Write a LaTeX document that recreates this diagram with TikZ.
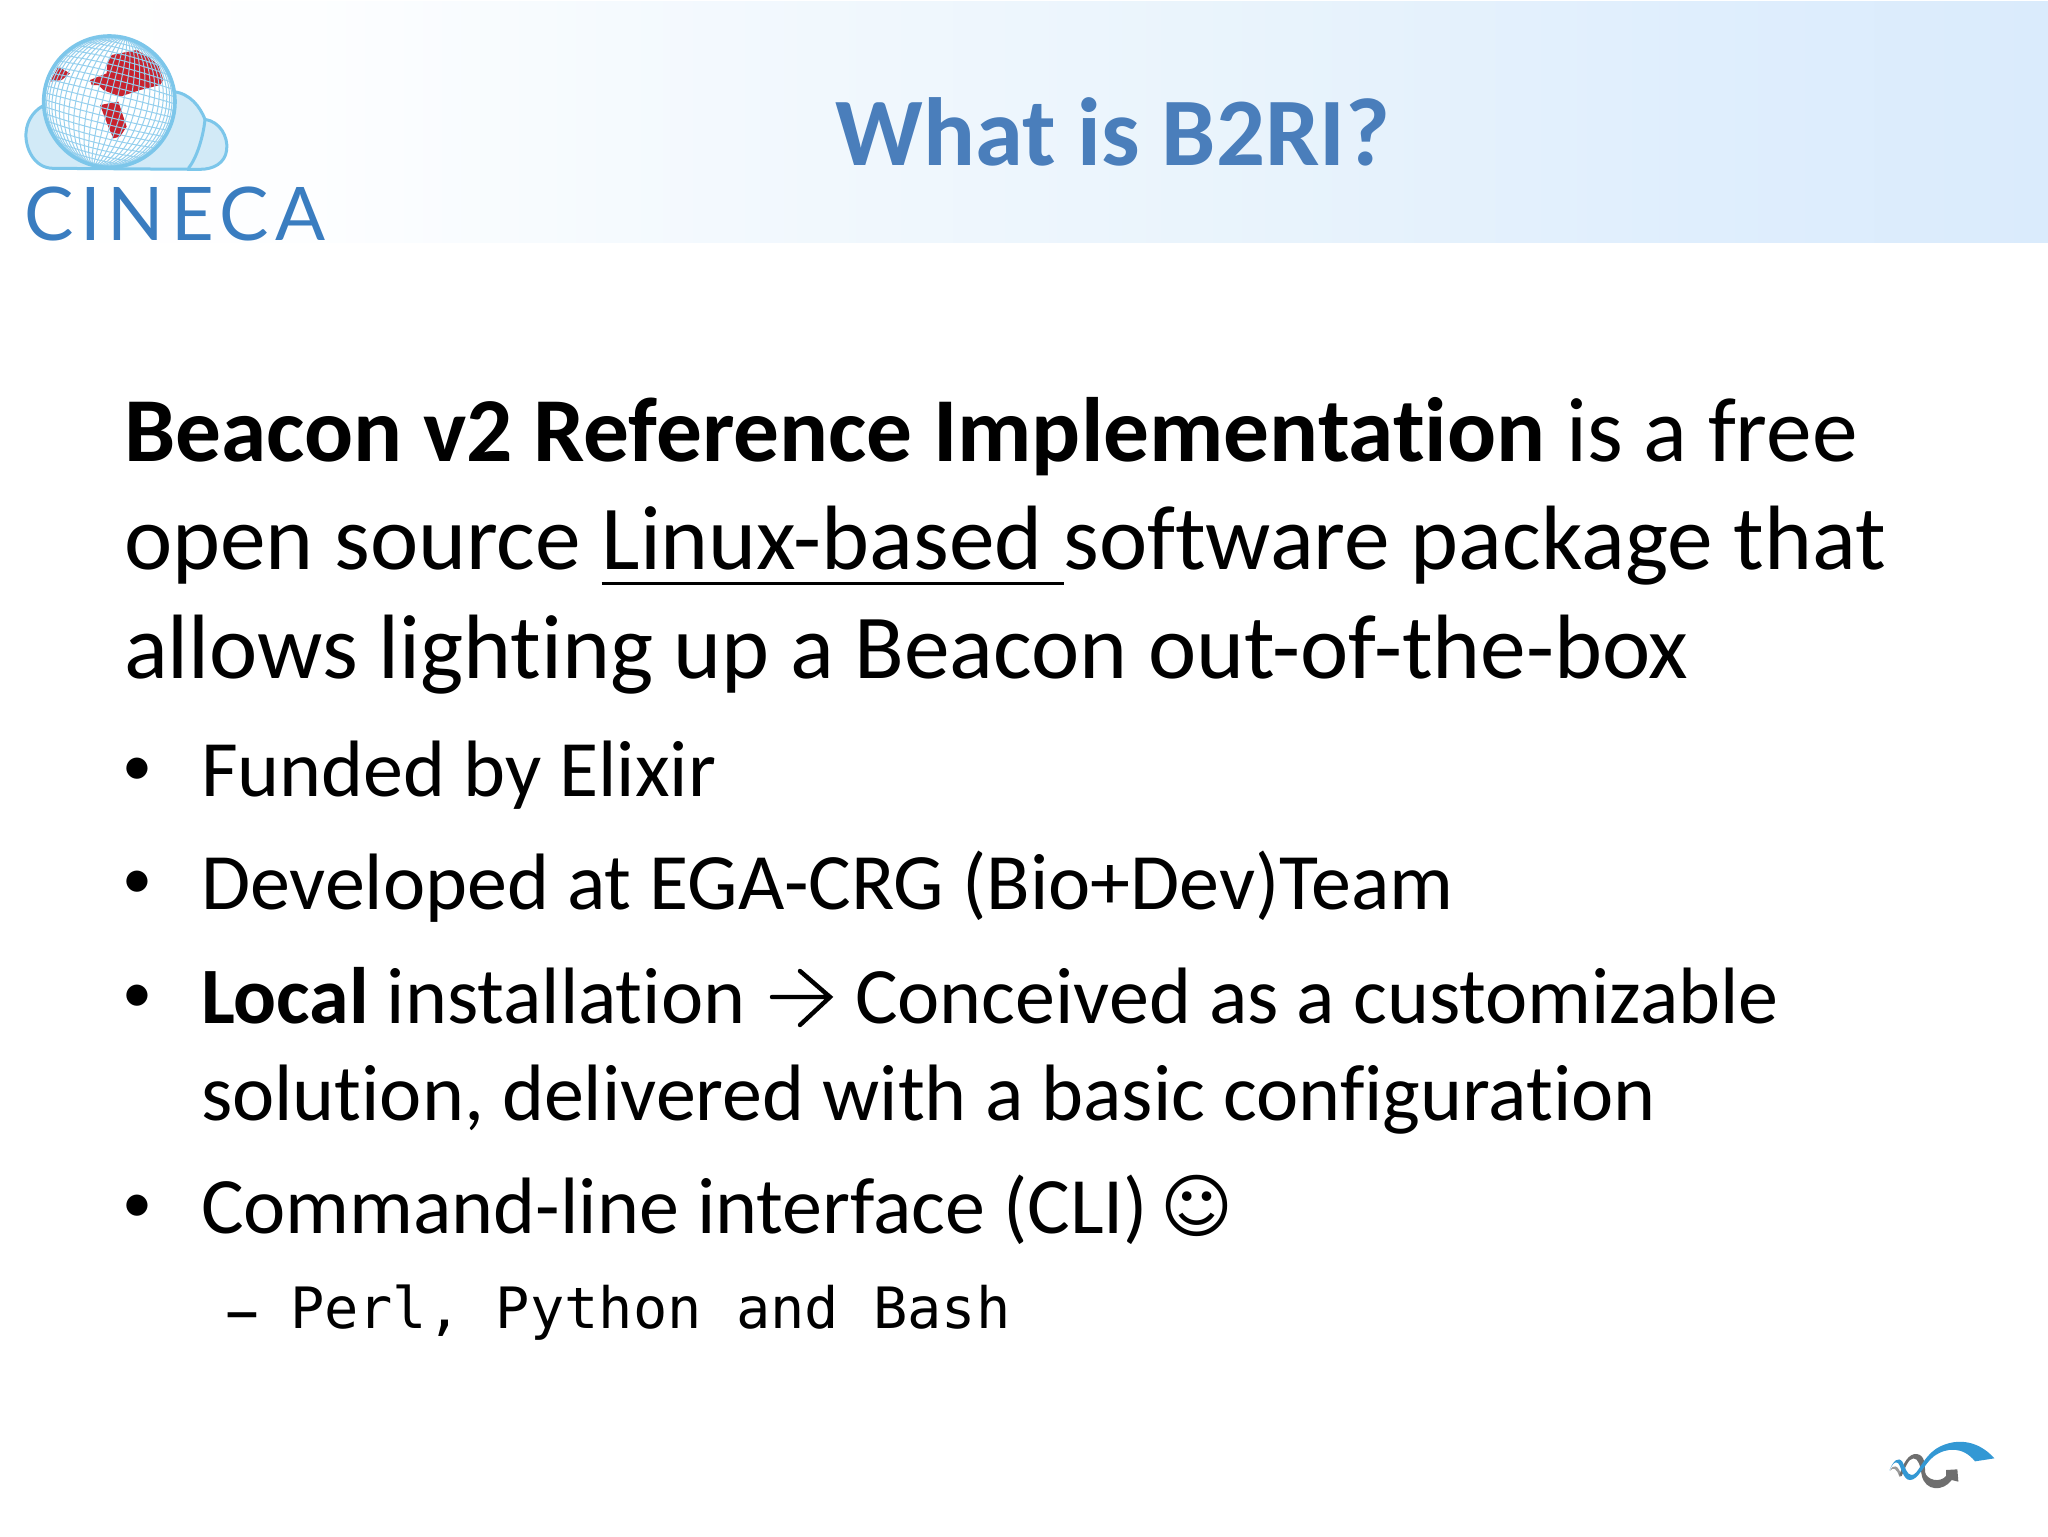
\documentclass[tikz,border=0pt]{standalone}
\usepackage{fontspec}
\setmainfont[Ligatures={NoCommon,TeX}]{Carlito}
\newfontfamily\symfont{DejaVu Sans}
\newfontfamily\codefont{DejaVu Sans Mono}
\newfontfamily\logofont[LetterSpace=9]{Lato}
\usetikzlibrary{calc}
\definecolor{titleblue}{HTML}{4A7EBB}
\definecolor{cinecablue}{HTML}{3A7DC0}
\definecolor{cloudfill}{HTML}{D2EAF7}
\definecolor{cloudline}{HTML}{7CC6EA}
\definecolor{gridblue}{HTML}{96D0EE}
\definecolor{mapred}{HTML}{C8232E}
\definecolor{swoosh}{HTML}{3398D4}
\definecolor{swooshgrey}{HTML}{6E6E6E}
\definecolor{bandA}{HTML}{FDFEFF}
\definecolor{bandB}{HTML}{F5FAFE}
\definecolor{bandC}{HTML}{E8F3FC}
\definecolor{bandD}{HTML}{DFEEFD}
\definecolor{bandE}{HTML}{DAEBFC}
\pgfdeclarehorizontalshading{headband}{100bp}{
  color(0bp)=(white); color(25bp)=(white); color(32.5bp)=(bandA); color(40bp)=(bandB);
  color(56.5bp)=(bandC); color(66.5bp)=(bandD); color(75bp)=(bandE); color(100bp)=(bandE)}
\newcommand{\underlined}[1]{\setbox0=\hbox{#1}\rlap{\rule[-8pt]{\wd0}{1.7pt}}\box0}
\tikzset{
  bodytext/.style={anchor=base west,inner sep=0pt,outer sep=0pt,font=\fontsize{45.7}{54}\selectfont,text=black},
  bullettext/.style={anchor=base west,inner sep=0pt,outer sep=0pt,font=\fontsize{40}{48}\selectfont,text=black},
  bulletmark/.style={anchor=base west,inner sep=0pt,outer sep=0pt,font=\fontsize{30}{34}\selectfont,text=black},
  codetext/.style={anchor=base west,inner sep=0pt,outer sep=0pt,font=\fontsize{28.5}{34}\codefont,text=black},
  gridline/.style={gridblue,line width=0.5pt},
}
\begin{document}
\begin{tikzpicture}[x=0.5pt,y=-0.5pt]
\useasboundingbox (0,0) rectangle (2048,1536);
\fill[white] (0,0) rectangle (2048,1536);
% header band
\shade[shading=headband] (0,2) rectangle (2048,242);
% CINECA logo (cloud and globe)
\begin{scope}[shift={(20,30)},x=0.16667pt,y=-0.16667pt]
  \fill[cloudfill,draw=cloudline,line width=1.5pt]
    (100,415) .. controls (40,415) and (15,350) .. (18,310)
    .. controls (20,265) and (50,235) .. (75,225)
    -- (460,185) .. controls (510,190) and (540,230) .. (555,268)
    .. controls (600,275) and (625,320) .. (620,360)
    .. controls (615,400) and (580,418) .. (540,418) -- cycle;
  \draw[cloudline,line width=1.5pt] (555,268) .. controls (550,320) and (530,385) .. (505,415);
  \begin{scope}
    \clip (268,215) circle (197);
    \fill[white] (268,215) circle (197);
    \fill[mapred] (210,150) -- (260,130) -- (262,100) -- (275,75) -- (350,60) -- (385,80) -- (415,105) -- (430,150) -- (420,165) -- (360,180) -- (330,190) -- (300,200) -- (275,190) -- (250,180) -- (235,165) -- (215,165) -- cycle;
    \fill[mapred] (240,225) -- (295,215) -- (320,290) -- (300,320) -- (280,325) -- (265,290) -- cycle;
    \fill[mapred] (90,155) -- (115,110) -- (150,130) -- (125,150) -- cycle;
    \begin{scope}[rotate around={-14:(268,215)}]
      \foreach \p in {6,12,...,84} {
        \draw[gridline] (268,215) ellipse [x radius={197*sin(\p)},y radius=197];
      }
      \draw[gridline] (268,18) -- (268,412);
      \foreach \p in {-84,-78,...,84} {
        \draw[gridline] ($(268,215)+(-197,{197*sin(\p)})$) .. controls ($(268,215)+(-70,{197*sin(\p)+30*sin(\p)})$) and ($(268,215)+(70,{197*sin(\p)+30*sin(\p)})$) .. ($(268,215)+(197,{197*sin(\p)})$);
      }
    \end{scope}
  \end{scope}
  \draw[cloudline,line width=1.8pt] (268,215) circle (197);
\end{scope}
\node[anchor=base west,inner sep=0pt,font=\logofont\fontsize{37}{44}\selectfont,text=cinecablue] (cineca) at (24,240) {CINECA};
% title
\node[anchor=base,inner sep=0pt,font=\fontsize{48.4}{56}\bfseries\selectfont,text=titleblue] (title) at (1113,165) {What is B2RI?};
% lead paragraph
\node[bodytext] (leadone) at (124,461) {\textbf{Beacon v2 Reference Implementation} is a free};
\node[bodytext] (leadtwo) at (124,569) {open source \underlined{Linux-based\ }software package that};
\node[bodytext] (leadthree) at (124,678) {allows lighting up a Beacon out-of-the-box};
% bullets
\node[bulletmark] (bone) at (122,785) {•};
\node[bullettext] (tone) at (201,796) {Funded by Elixir};
\node[bulletmark] (btwo) at (122,898) {•};
\node[bullettext] (ttwo) at (201,909) {Developed at EGA-CRG (Bio+Dev)Team};
\node[bulletmark] (bthree) at (122,1012) {•};
\node[bullettext] (tthree) at (201,1023) {\textbf{Local} installation};
\coordinate (arrowtail) at (772,997);
\coordinate (arrowtip) at (830,997);
\draw[black,line width=2.2pt,line cap=round,line join=miter] (arrowtail) -- (arrowtip) (800,971) -- (arrowtip) -- (800,1025);
\node[bullettext] (tthreec) at (855,1023) {Conceived as a customizable};
\node[bullettext] (tthreeb) at (201,1120) {solution, delivered with a basic configuration};
\node[bulletmark] (bfour) at (122,1222) {•};
\node[bullettext] (tfour) at (201,1233) {Command-line interface (CLI)\hspace{6pt}\raisebox{1pt}{\fontsize{35}{40}\symfont☺}};
\node[bullettext] (dash) at (222,1337) {–};
\node[codetext] (tcode) at (290,1328) {Perl, Python and Bash};
% swoosh logo
\begin{scope}[shift={(1840,1400)},x=0.16667pt,y=-0.16667pt]
  \fill[swooshgrey!70!white] (150,212) .. controls (160,190) and (175,195) .. (185,228) -- (178,230) .. controls (170,205) and (160,200) .. (150,212) -- cycle;
  \fill[swooshgrey] (178,225) .. controls (190,190) and (205,160) .. (230,162) .. controls (255,165) and (255,195) .. (255,215) .. controls (258,240) and (300,250) .. (318,228) -- (318,210) -- (352,208) -- (355,245) -- (335,240) .. controls (310,275) and (255,275) .. (245,225) .. controls (240,195) and (235,175) .. (220,175) .. controls (205,175) and (195,205) .. (185,228) -- cycle;
  \fill[swoosh] (148,212) .. controls (160,180) and (175,170) .. (187,185) .. controls (195,200) and (200,225) .. (215,225) .. controls (235,225) and (245,175) .. (290,145) .. controls (340,115) and (410,115) .. (463,175) -- (405,184) .. controls (370,140) and (320,140) .. (280,170) .. controls (250,195) and (235,240) .. (210,240) .. controls (190,240) and (185,205) .. (175,190) .. controls (165,180) and (155,195) .. (148,212) -- cycle;
\end{scope}
\end{tikzpicture}
\end{document}
